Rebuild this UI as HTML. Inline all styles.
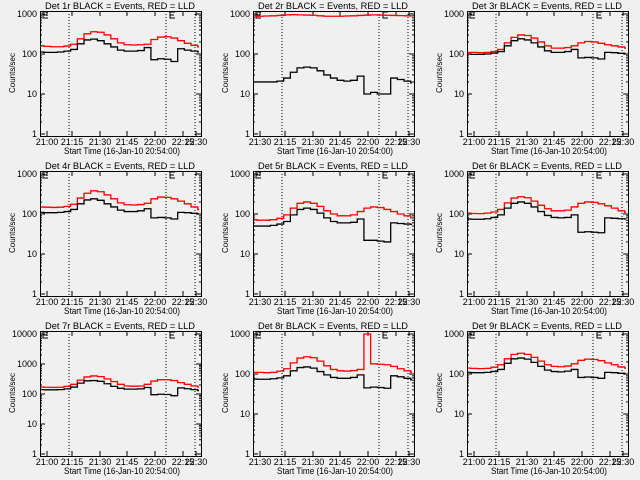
<!DOCTYPE html>
<html><head><meta charset="utf-8"><style>
html,body{margin:0;padding:0;background:#f0f0f0;}
svg{display:block;font-family:"Liberation Sans",sans-serif;}
</style></head><body>
<svg id="chart" width="640" height="480" viewBox="0 0 640 480"></svg>
<script>
const times=[-2,2,6,10,14,18,22,26,30,34,38,42,46,50,54,58,62,66,70,74,78,82,86,90,94];
const detNames=["1r","2r","3r","4r","5r","6r","7r","8r","9r"];
const decades=[3,3,3,3,3,3,4,3,3];
const firstLabels=["21:00","21:30","21:00","21:00","21:30","21:00","21:00","21:30","21:00"];
const xTickLabels=["21:15","21:30","21:45","22:00","22:15","22:30"];
const red1=[160,155,152,152,158,175,240,320,360,350,300,240,190,170,168,170,175,230,265,270,250,215,185,165,150];
const blk1=[112,110,110,112,118,130,180,225,235,215,180,150,125,118,118,122,145,72,76,74,65,135,125,118,112];
const red2=[900,880,890,900,920,950,960,950,940,930,900,880,880,880,890,900,920,940,950,940,930,920,910,900,890];
const blk2=[20,20,20,20,21,25,35,45,47,45,38,30,25,22,21,22,28,10,11,10,10,25,23,21,19];
const red3=[110,110,108,110,115,130,190,260,300,290,250,200,160,140,140,145,160,190,205,200,185,170,160,150,140];
const blk3=[100,98,98,100,105,115,160,215,240,225,190,150,120,110,110,115,130,80,82,80,75,110,108,104,100];
const red4=[150,148,146,148,155,175,250,330,380,360,300,240,190,170,168,172,185,240,265,260,240,210,180,150,130];
const blk4=[110,108,108,110,115,130,180,225,240,220,180,150,125,115,115,120,135,80,82,80,75,110,108,104,100];
const red5=[72,70,70,72,78,95,140,185,200,185,155,120,100,90,90,95,115,140,150,145,130,115,100,90,80];
const blk5=[50,50,50,52,56,65,95,130,140,130,105,80,65,60,60,62,75,22,22,21,20,60,58,56,55];
const red6=[105,103,102,105,112,130,190,250,270,255,210,165,135,120,120,125,150,185,200,195,180,160,140,120,110];
const blk6=[75,74,74,76,82,95,140,185,200,185,150,115,92,82,80,82,95,35,36,35,34,80,78,76,75];
const red7=[170,168,166,168,180,210,290,370,400,380,320,260,210,185,182,185,210,270,300,300,280,240,210,185,170];
const blk7=[140,138,138,140,148,170,230,275,280,265,220,180,155,145,145,148,165,95,98,96,88,160,150,140,130];
const red8=[110,110,108,110,118,135,190,250,270,255,210,160,130,120,118,122,130,1000,180,175,170,155,135,120,110];
const blk8=[75,74,74,76,80,90,120,145,150,140,115,95,82,78,78,82,95,45,47,46,44,90,85,78,72];
const red9=[140,138,136,138,148,170,240,310,330,310,260,210,170,155,152,158,180,220,235,230,215,190,170,150,140];
const blk9=[110,108,108,110,116,130,185,240,250,235,195,155,125,115,113,118,130,82,84,82,78,110,108,104,100];
const redSeries=[red1,red2,red3,red4,red5,red6,red7,red8,red9];
const blkSeries=[blk1,blk2,blk3,blk4,blk5,blk6,blk7,blk8,blk9];

const svg=document.getElementById('chart');
const NS='http://www.w3.org/2000/svg';
function mk(tag,attrs,parent){const e=document.createElementNS(NS,tag);for(const k in attrs)e.setAttribute(k,attrs[k]);parent.appendChild(e);return e;}
const L=40,R=201,T=11,B=136;
const xOf=t=>69+(t-15)*1.672;
for(let p=0;p<9;p++){
  const ox=Math.round((p%3)*213.33), oy=Math.floor(p/3)*160;
  const g=mk('g',{transform:`translate(${ox},${oy})`},svg);
  
  
  const nd=decades[p];
  const top=14, bot=134, dpx=(bot-top)/nd;
  const yOf=v=>bot-Math.log10(v)*dpx;
  const box=mk('rect',{x:L+0.5,y:T+0.5,width:R-L,height:B-T,fill:'none',stroke:'#000','stroke-width':1},g);
  
  
  const title=mk('text',{x:45,y:9,'font-size':9,textLength:150,lengthAdjust:'spacingAndGlyphs',fill:'#000'},g);
  title.textContent=`Det ${detNames[p]} BLACK = Events, RED = LLD`;
  
  
  for(let d=0;d<=nd;d++){
    const y=yOf(Math.pow(10,d));
    mk('line',{x1:L,x2:L+5,y1:y,y2:y,stroke:'#000'},g);
    mk('line',{x1:R-5,x2:R,y1:y,y2:y,stroke:'#000'},g);
    if(d<nd){for(let m=2;m<10;m++){const ym=yOf(m*Math.pow(10,d));mk('line',{x1:L,x2:L+2,y1:ym,y2:ym,stroke:'#000'},g);mk('line',{x1:R-2,x2:R,y1:ym,y2:ym,stroke:'#000'},g);}}
    const lab=mk('text',{x:37,y:y+3,'font-size':9,'text-anchor':'end',fill:'#000'},g);
    lab.textContent=String(Math.pow(10,d));
    
    
  }
  const yt=mk('text',{x:0,y:0,'font-size':8,'text-anchor':'middle',fill:'#000',transform:'translate(15,73) rotate(-90)'},g);
  yt.textContent='Counts/sec';
  
  
  const xlabs=[firstLabels[p]].concat(xTickLabels);
  const xpos=[47,72,100,127,155,183,196];
  xlabs.forEach((s,i)=>{
    const t=mk('text',{x:xpos[i],y:145,'font-size':9,'text-anchor':'middle',fill:'#000'},g);
    t.textContent=s;
    
    
    mk('line',{x1:xpos[i],x2:xpos[i],y1:B,y2:B-5,stroke:'#000'},g);
    mk('line',{x1:xpos[i],x2:xpos[i],y1:T,y2:T+5,stroke:'#000'},g);
  });
  const xt=mk('text',{x:64,y:154,'font-size':9,textLength:116,lengthAdjust:'spacingAndGlyphs',fill:'#000'},g);
  xt.textContent='Start Time (16-Jan-10 20:54:00)';
  
  
  [69,166,195].forEach(x=>{mk('line',{x1:x,x2:x,y1:T,y2:B,stroke:'#000','stroke-dasharray':'1,2'},g);});
  [43,170].forEach(x=>{mk('path',{d:`M${x+5},${T+1}H${x}V${T+7}H${x+5}M${x},${T+4}H${x+4}`,fill:'none',stroke:'#000'},g);});
  function stepPath(vals){
    let d='';
    vals.forEach((v,i)=>{
      const x0=Math.max(L+1,xOf(times[i]-2)), x1=Math.min(R-2,xOf(times[i]+2)), y=yOf(v);
      d+=(i===0?`M${x0},${y}`:`L${x0},${y}`)+`L${x1},${y}`;
    });
    return d;
  }
  const rp=mk('path',{d:stepPath(redSeries[p]),fill:'none',stroke:'#ff0000','stroke-width':1.3},g);
  
  
  const bp=mk('path',{d:stepPath(blkSeries[p]),fill:'none',stroke:'#000','stroke-width':1.3},g);
  
  
}
</script>
</body></html>
